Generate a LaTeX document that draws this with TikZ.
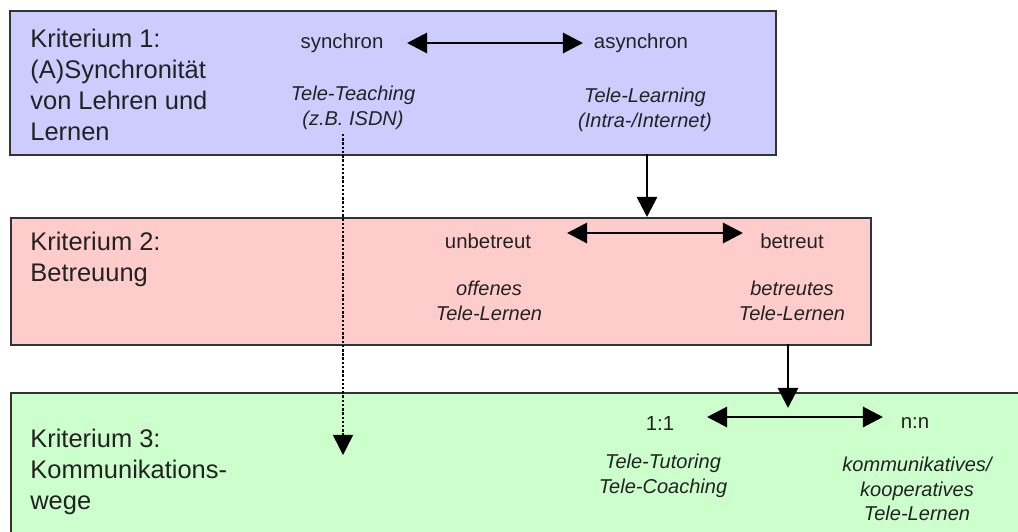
\documentclass[tikz,border=0pt]{standalone}
\usepackage{fontspec}
\setmainfont{Liberation Sans}
\usetikzlibrary{arrows.meta,calc}
\definecolor{boxA}{HTML}{CCCCFF}
\definecolor{boxB}{HTML}{FFCCCC}
\definecolor{boxC}{HTML}{CCFFCC}
\definecolor{edge}{HTML}{333333}
\definecolor{ink}{HTML}{222222}
\begin{document}
\begin{tikzpicture}[x=0.02cm,y=-0.02cm,
  panel/.style={draw=edge,line width=1.4pt,anchor=north west,inner sep=0pt},
  head/.style={text=ink,font=\fontsize{14.5}{17.6}\selectfont,align=left,anchor=north west,inner sep=0pt},
  pole/.style={text=ink,font=\fontsize{11.6}{14}\selectfont,inner sep=0pt},
  example/.style={text=ink,font=\fontsize{11.4}{14}\selectfont\itshape,align=center,inner sep=0pt},
  spanarrow/.style={{Triangle[width=11.5pt,length=11.5pt]}-{Triangle[width=11.5pt,length=11.5pt]},line width=1.7pt},
  flow/.style={-{Triangle[width=11.5pt,length=11.5pt]},line width=1.6pt},
]
\useasboundingbox (0,0) rectangle (1018,531);
\clip (0,0) rectangle (1018,531);

% criterion panels
\node[panel,fill=boxA,minimum width=766*0.02cm,minimum height=144*0.02cm] (p1) at (9,10) {};
\node[panel,fill=boxB,minimum width=860*0.02cm,minimum height=127*0.02cm] (p2) at (10,217) {};
\node[panel,fill=boxC,minimum width=1030*0.02cm,minimum height=170*0.02cm] (p3) at (10,392) {};

% criterion 1
\node[head] (h1) at (30,28.5) {Kriterium 1:\\(A)Synchronität\\von Lehren und\\Lernen};
\node[pole] (syn) at (342,43) {synchron};
\node[pole] (asyn) at (641,43) {asynchron};
\coordinate (s1) at (407,43);
\coordinate (s2) at (583,43);
\draw[spanarrow] (s1) -- (s2);
\node[example] (tt) at (353,108) {Tele-Teaching\\(z.B. ISDN)};
\node[example] (tl) at (645,110) {Tele-Learning\\(Intra-/Internet)};

% criterion 2
\node[head] (h2) at (30,231.5) {Kriterium 2:\\Betreuung};
\node[pole] (unb) at (488,241) {unbetreut};
\node[pole] (bet) at (792,241) {betreut};
\coordinate (u1) at (567,233);
\coordinate (u2) at (743,233);
\draw[spanarrow] (u1) -- (u2);
\node[example] (ot) at (489,301) {offenes\\Tele-Lernen};
\node[example] (bt) at (792,301) {betreutes\\Tele-Lernen};

% criterion 3
\node[head] (h3) at (30,428.5) {Kriterium 3:\\Kommunikations-\\wege};
\node[pole] (one) at (660,423) {1:1};
\node[pole] (many) at (915,423) {n:n};
\coordinate (k1) at (707,417);
\coordinate (k2) at (883,417);
\draw[spanarrow] (k1) -- (k2);
\node[example] (tc) at (663,476) {Tele-Tutoring\\Tele-Coaching};
\node[example] (kk) at (917,489) {kommunikatives/\\kooperatives\\Tele-Lernen};

% links between the criteria
\coordinate (a1) at (647,154);
\coordinate (a2) at (647,217);
\draw[flow] (a1) -- (a2);
\coordinate (b1) at (788,344);
\coordinate (b2) at (788,408);
\draw[flow] (b1) -- (b2);
\coordinate (d1) at (343,134);
\coordinate (d2) at (343,455);
\draw[flow,dash pattern=on 1.4pt off 1pt,line width=0.9pt] (d1) -- (d2);
\end{tikzpicture}
\end{document}
